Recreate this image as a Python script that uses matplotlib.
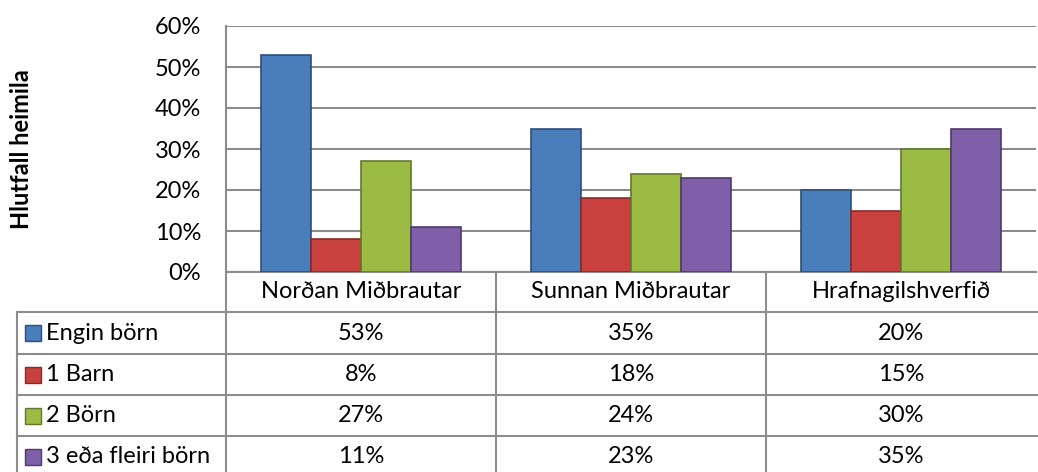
import matplotlib.pyplot as plt
import numpy as np

plt.rcParams['font.family'] = ['Lato', 'DejaVu Sans']

areas = ['Norðan Miðbrautar', 'Sunnan Miðbrautar', 'Hrafnagilshverfið']
series = ['Engin börn', '1 Barn', '2 Börn', '3 eða fleiri börn']
engin = [53, 35, 20]
eitt = [8, 18, 15]
tvo = [27, 24, 30]
thrju = [11, 23, 35]
values = [engin, eitt, tvo, thrju]
colors = ['#4a7ebb', '#c9413e', '#9bbb45', '#7f5fa8']
edges = ['#2b4f80', '#8a2a28', '#62792b', '#4f3a6e']

W, H = 1038, 472
fig = plt.figure(figsize=(W / 100, H / 100), dpi=100)
fs = 17

# plot area in pixels (left, top, right, bottom)
L, T, R, B = 226, 26, 1036, 272
ax = fig.add_axes([L / W, 1 - B / H, (R - L) / W, (B - T) / H])

x = np.arange(len(areas)) + 0.5
bw = 50 / 270
for i, (vals, c, e) in enumerate(zip(values, colors, edges)):
    ax.bar(x + (i - 1.5) * bw, vals, width=bw, color=c, edgecolor=e,
           linewidth=1.2, zorder=3)

ax.set_xlim(0, 3)
ax.set_ylim(0, 60)
ax.set_yticks(range(0, 61, 10))
ax.set_yticklabels([f'{v}%' for v in range(0, 61, 10)], fontsize=fs)
ax.tick_params(axis='y', length=0, pad=18)
ax.set_xticks([])
ax.grid(axis='y', color='#8c8c8c', linewidth=1.5, zorder=0)
for s in ['top', 'right']:
    ax.spines[s].set_visible(False)
ax.spines['left'].set_color('#8c8c8c')
ax.spines['bottom'].set_color('#8c8c8c')
ax.spines['left'].set_linewidth(1.5)
ax.spines['bottom'].set_linewidth(1.5)

fig.text(22 / W, 1 - 149 / H, 'Hlutfall heimila', rotation=90, fontsize=fs,
         fontweight='bold', ha='center', va='center')

# data table below the plot, in pixel coordinates
def fx(px):
    return px / W

def fy(py):
    return 1 - py / H

line_kw = dict(color='#8c8c8c', linewidth=1.5, transform=fig.transFigure)
rows = [272, 312, 354, 395, 436, 477]
cols = [17, 226, 496, 766, 1036]

for r in rows[1:]:
    fig.add_artist(plt.Line2D([fx(cols[0]), 1], [fy(r), fy(r)], **line_kw))
fig.add_artist(plt.Line2D([fx(cols[0]), fx(cols[0])], [fy(rows[1]), 0], **line_kw))
for c in cols[1:4]:
    fig.add_artist(plt.Line2D([fx(c), fx(c)], [fy(rows[0]), 0], **line_kw))

for j, name in enumerate(areas):
    cx = (cols[j + 1] + cols[j + 2]) / 2
    fig.text(fx(cx), fy((rows[0] + rows[1]) / 2), name, fontsize=fs,
             ha='center', va='center')

for i, (name, vals, c, e) in enumerate(zip(series, values, colors, edges)):
    cy = (rows[i + 1] + rows[i + 2]) / 2
    fig.add_artist(plt.Rectangle((fx(25), fy(cy + 8)), 16 / W, 16 / H,
                                 facecolor=c, edgecolor=e, linewidth=1,
                                 transform=fig.transFigure))
    fig.text(fx(46), fy(cy), name, fontsize=fs, ha='left', va='center')
    for j, v in enumerate(vals):
        cx = (cols[j + 1] + cols[j + 2]) / 2
        fig.text(fx(cx), fy(cy), f'{v}%', fontsize=fs, ha='center', va='center')

fig.savefig('out.png', dpi=100)
